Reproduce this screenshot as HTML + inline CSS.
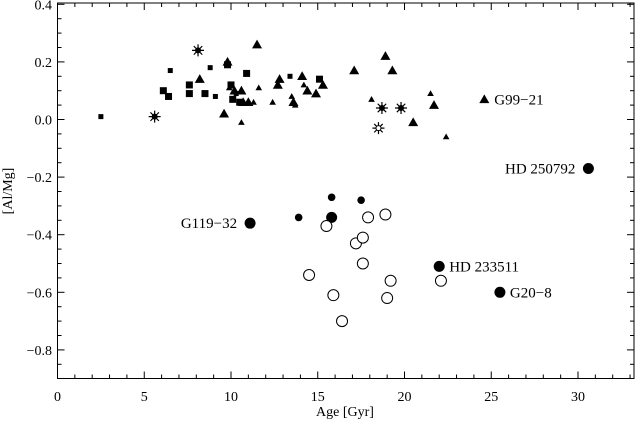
<!DOCTYPE html>
<html><head><meta charset="utf-8"><style>
body{margin:0;background:#fff}
svg text{font-family:"Liberation Serif",serif;fill:#000}
</style></head><body>
<svg width="636" height="421" viewBox="0 0 636 421">
<g id="axes"></g><g id="marks"></g><g id="labels"></g>
</svg>
<script>
const NS='http://www.w3.org/2000/svg';
const xTicks=[0,5,10,15,20,25,30];
const yTicks=[0.4,0.2,0.0,-0.2,-0.4,-0.6,-0.8];
const yTickLabels=['0.4','0.2','0.0','\u22120.2','\u22120.4','\u22120.6','\u22120.8'];
const sqSmall=[[2.5,0.01],[6.5,0.17],[8.8,0.18],[9.1,0.08],[13.4,0.15],[10.3,0.09]];
const sqBig=[[6.1,0.10],[6.4,0.08],[7.6,0.12],[7.6,0.09],[8.5,0.09],[10.9,0.16],[10.0,0.12],[10.1,0.07],[10.5,0.06],[9.8,0.19],[15.1,0.14]];
const triBig=[[11.5,0.26],[8.2,0.14],[9.6,0.02],[9.8,0.20],[10.6,0.10],[10.7,0.06],[11.0,0.06],[12.8,0.14],[12.7,0.12],[14.1,0.15],[15.3,0.12],[14.4,0.10],[14.9,0.09],[17.1,0.17],[18.9,0.22],[19.3,0.17],[21.7,0.05],[20.5,-0.01],[24.6,0.07],[10.2,0.10],[13.6,0.06]];
const triSmall=[[10.6,-0.01],[11.6,0.11],[12.4,0.06],[14.2,0.12],[13.5,0.08],[13.7,0.05],[18.1,0.07],[21.5,0.09],[22.4,-0.06],[9.9,0.11],[11.3,0.06]];
const starFilled=[[5.6,0.01],[8.1,0.24],[18.7,0.04],[19.8,0.04]];
const starOpen=[[18.5,-0.03]];
const circBig=[[11.1,-0.36],[15.8,-0.34],[22.0,-0.51],[25.5,-0.60],[30.6,-0.17]];
const circSmall=[[15.8,-0.27],[17.5,-0.28],[13.9,-0.34]];
const circOpen=[[15.5,-0.37],[17.9,-0.34],[18.9,-0.33],[17.2,-0.43],[17.6,-0.41],[17.6,-0.50],[14.5,-0.54],[15.9,-0.61],[16.4,-0.70],[19.2,-0.56],[19.0,-0.62],[22.1,-0.56]];
const starLabels=['G99\u221221','HD 250792','G119\u221232','HD 233511','G20\u22128'];
const labelPos=[[24.6,0.07,'l'],[30.6,-0.17,'r'],[11.1,-0.36,'r'],[22.0,-0.51,'l'],[25.5,-0.60,'l']];
const X0=57.5,XS=17.35,Y0=119.5,YS=288;
const sx=v=>X0+v*XS, sy=v=>Y0-v*YS;
const L=57.5,R=634,T=3,B=378.5;
function el(t,a,p,name){const e=document.createElementNS(NS,t);for(const k in a)e.setAttribute(k,a[k]);


p.appendChild(e);return e;}
const ax=document.getElementById('axes'),mk=document.getElementById('marks'),lb=document.getElementById('labels');
el('rect',{x:L,y:T,width:R-L,height:B-T,fill:'none',stroke:'#000','stroke-width':1},ax,'plot-frame');
for(let v=0;v<=33;v++){const x=sx(v),len=v%5==0?7:4;
el('line',{x1:x,x2:x,y1:B,y2:B-len,stroke:'#000'},ax,'x-tick');
el('line',{x1:x,x2:x,y1:T,y2:T+len,stroke:'#000'},ax,'x-tick-top');}
for(let i=-18;i<=8;i++){const v=i*0.05,y=sy(v);if(y<T||y>B)continue;const len=i%4==0?7:4;
el('line',{x1:L,x2:L+len,y1:y,y2:y,stroke:'#000'},ax,'y-tick');
el('line',{x1:R,x2:R-len,y1:y,y2:y,stroke:'#000'},ax,'y-tick-right');}
xTicks.forEach(v=>{const t=el('text',{x:sx(v),y:401,'text-anchor':'middle','font-size':14},ax,'x-tick-label');t.textContent=v;});
yTicks.forEach((v,i)=>{const t=el('text',{x:52,y:sy(v)+5,'text-anchor':'end','font-size':14},ax,'y-tick-label');t.textContent=yTickLabels[i];});
let t=el('text',{x:345,y:416,'text-anchor':'middle','font-size':14},ax,'x-axis-title');t.textContent='Age [Gyr]';
t=el('text',{x:0,y:0,'text-anchor':'middle','font-size':14,transform:'translate(12,191) rotate(-90)'},ax,'y-axis-title');t.textContent='[Al/Mg]';
sqSmall.forEach(([a,v])=>el('rect',{x:sx(a)-2.5,y:sy(v)-2.5,width:5,height:5},mk,'square-small'));
sqBig.forEach(([a,v])=>el('rect',{x:sx(a)-3.5,y:sy(v)-3.5,width:7,height:7},mk,'square-big'));
function tri(a,v,s,n){const x=sx(a),y=sy(v);el('polygon',{points:`${x},${y-s} ${x-s},${y+s*0.75} ${x+s},${y+s*0.75}`},mk,n);}
triBig.forEach(([a,v])=>tri(a,v,5,'triangle-big'));
triSmall.forEach(([a,v])=>tri(a,v,3.3,'triangle-small'));
function star(a,v,fill,n){const x=sx(a),y=sy(v);let d='';for(let k=0;k<4;k++){const an=k*Math.PI/4;d+=`M${x-6*Math.cos(an)},${y-6*Math.sin(an)}L${x+6*Math.cos(an)},${y+6*Math.sin(an)}`;}
el('path',{d:d,stroke:'#000','stroke-width':1.2},mk,n);el('circle',{cx:x,cy:y,r:2.5,fill:fill,stroke:'#000'},mk,n+'-core');}
starFilled.forEach(([a,v])=>star(a,v,'#000','star-filled'));
starOpen.forEach(([a,v])=>star(a,v,'#fff','star-open'));
circBig.forEach(([a,v])=>el('circle',{cx:sx(a),cy:sy(v),r:5.5},mk,'circle-big'));
circSmall.forEach(([a,v])=>el('circle',{cx:sx(a),cy:sy(v),r:3.8},mk,'circle-small'));
circOpen.forEach(([a,v])=>el('circle',{cx:sx(a),cy:sy(v),r:5.5,fill:'#fff',stroke:'#000','stroke-width':1},mk,'circle-open'));
starLabels.forEach((s,i)=>{const [a,v,side]=labelPos[i];const t=el('text',{x:side=='l'?sx(a)+10:sx(a)-13,y:sy(v)+5,'text-anchor':side=='l'?'start':'end','font-size':15},lb,'star-label');t.textContent=s;});
</script>
</body></html>
